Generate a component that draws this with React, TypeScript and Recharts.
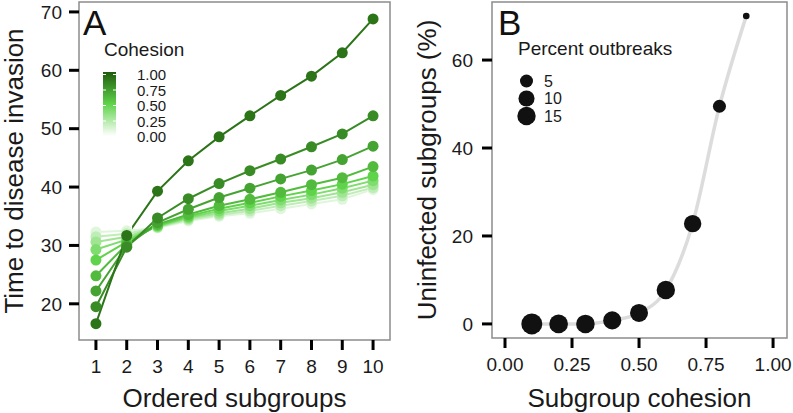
import React from "react";
import {
  LineChart,
  Line,
  ComposedChart,
  Scatter,
  XAxis,
  YAxis,
  ReferenceArea,
  Legend,
} from "recharts";

// Panel A: time to disease invasion by ordered subgroup, one line per cohesion level
const subgroups = [1, 2, 3, 4, 5, 6, 7, 8, 9, 10];
const cohesionLevels = [0, 0.1, 0.2, 0.3, 0.4, 0.5, 0.6, 0.7, 0.8, 0.9];
const time_c00 = [33.0, 33.0, 33.0, 34.1, 34.8, 35.2, 35.9, 36.7, 37.4, 39.3];
const time_c01 = [32.3, 32.5, 33.0, 34.2, 35.0, 35.5, 36.3, 37.1, 37.9, 39.6];
const time_c02 = [31.5, 32.0, 33.1, 34.4, 35.2, 35.9, 36.8, 37.6, 38.5, 39.9];
const time_c03 = [30.6, 31.5, 33.2, 34.6, 35.5, 36.3, 37.3, 38.1, 39.1, 40.4];
const time_c04 = [29.3, 31.0, 33.3, 34.8, 35.9, 36.8, 37.8, 38.7, 39.8, 41.1];
const time_c05 = [27.5, 30.6, 33.4, 35.0, 36.3, 37.3, 38.4, 39.4, 40.5, 41.9];
const time_c06 = [24.8, 30.2, 33.6, 35.3, 36.8, 37.9, 39.1, 40.4, 41.6, 43.5];
const time_c07 = [22.2, 29.9, 33.9, 36.2, 38.2, 39.8, 41.4, 42.9, 44.7, 47.0];
const time_c08 = [19.5, 29.7, 34.7, 38.0, 40.6, 42.8, 44.8, 46.9, 49.1, 52.2];
const time_c09 = [16.6, 31.7, 39.3, 44.5, 48.6, 52.2, 55.7, 59.0, 63.0, 68.8];
const timeSeries = [time_c00, time_c01, time_c02, time_c03, time_c04, time_c05, time_c06, time_c07, time_c08, time_c09];
const yTicksA = [20, 30, 40, 50, 60, 70];
const cohesionLegendTicks = [1.0, 0.75, 0.5, 0.25, 0.0];

// Panel B: uninfected subgroups vs subgroup cohesion, sized by percent outbreaks
const cohesionB = [0.1, 0.2, 0.3, 0.4, 0.5, 0.6, 0.7, 0.8, 0.9];
const uninfected = [0, 0, 0, 0.8, 2.5, 7.7, 22.8, 49.5, 70];
const outbreaks = [22, 15.8, 15.4, 14.3, 14.1, 15.0, 12.7, 5.0, 0.8];
const xTicksB = [0, 0.25, 0.5, 0.75, 1.0];
const yTicksB = [0, 20, 40, 60];
const outbreakLegend = [5, 10, 15];

const rowsA = subgroups.map((s, i) => {
  const row: Record<string, number> = { subgroup: s };
  cohesionLevels.forEach((_, j) => (row["c" + j] = timeSeries[j][i]));
  return row;
});
const rowsB = cohesionB.map((c, i) => ({ cohesion: c, uninfected: uninfected[i], outbreaks: outbreaks[i] }));

const FONT = '"Liberation Sans", Arial, Helvetica, sans-serif';
const FRAME = "#8c8c8c";

// white -> green -> dark green
function hex(h: string) {
  return [1, 3, 5].map((k) => parseInt(h.slice(k, k + 2), 16));
}
const stops: [number, number[]][] = [
  [0, hex("#ffffff")],
  [0.5, hex("#5fd34a")],
  [1, hex("#1f5c0c")],
];
function cohesionColor(c: number) {
  let i = c <= 0.5 ? 0 : 1;
  const [a, ca] = stops[i];
  const [b, cb] = stops[i + 1];
  const t = (c - a) / (b - a);
  const rgb = ca.map((v, k) => Math.round(v + (cb[k] - v) * t));
  return `rgb(${rgb.join(",")})`;
}

function outbreakRadius(v: number) {
  const t = Math.max(0, (v - 0.8) / (22 - 0.8));
  return 3.3 + 7.2 * Math.sqrt(t);
}

const tickStyle = { fill: "#1a1a1a", fontSize: 19, fontFamily: FONT };
const tickLine = { stroke: "#000", strokeWidth: 3 };
const titleStyle = { fill: "#1a1a1a", fontSize: 26, fontFamily: FONT, textAnchor: "middle" as const };

function LegendA() {
  return (
    <svg width={260} height={160} style={{ fontFamily: FONT }}>
      <defs>
        <linearGradient id="cohGrad" x1="0" y1="0" x2="0" y2="1">
          {[1, 0.875, 0.75, 0.625, 0.5, 0.375, 0.25, 0.125, 0].map((c) => (
            <stop key={c} offset={1 - c} stopColor={cohesionColor(c)} />
          ))}
        </linearGradient>
      </defs>
      <text x={83} y={35} fontSize={35} fill="#111">A</text>
      <text x={104} y={56} fontSize={19} fill="#1a1a1a">Cohesion</text>
      <rect x={103} y={72} width={13} height={64} fill="url(#cohGrad)" />
      {cohesionLegendTicks.map((c) => {
        const y = 74.5 + (1 - c) * 62;
        return (
          <g key={c}>
            <line x1={103} x2={106} y1={y} y2={y} stroke="#fff" strokeWidth={1} />
            <line x1={113} x2={116} y1={y} y2={y} stroke="#fff" strokeWidth={1} />
            <text x={137} y={y + 5.5} fontSize={15} fill="#1a1a1a">{c.toFixed(2)}</text>
          </g>
        );
      })}
    </svg>
  );
}

function LegendB() {
  return (
    <svg width={300} height={140} style={{ fontFamily: FONT }}>
      <text x={98} y={35} fontSize={35} fill="#111">B</text>
      <text x={118} y={55} fontSize={19} fill="#1a1a1a">Percent outbreaks</text>
      {outbreakLegend.map((v, i) => (
        <g key={v}>
          <circle cx={126.5} cy={81 + i * 17.5} r={outbreakRadius(v)} fill="#111" />
          <text x={144} y={81 + i * 17.5 + 5.5} fontSize={16} fill="#1a1a1a">{v}</text>
        </g>
      ))}
    </svg>
  );
}

export default function App() {
  return (
    <div style={{ position: "absolute", left: 0, top: 0, width: 793, height: 413, background: "#fff" }}>
      <div style={{ position: "absolute", left: 0, top: 0 }}>
        <LineChart width={400} height={413} data={rowsA} margin={{ top: 2, right: 10, left: 0, bottom: 0 }}>
          <XAxis
            dataKey="subgroup"
            type="number"
            domain={[0.45, 10.55]}
            ticks={subgroups}
            allowDataOverflow
            height={73}
            axisLine={false}
            tickLine={tickLine}
            tickSize={10}
            tickMargin={10}
            tick={tickStyle}
            label={{ value: "Ordered subgroups", position: "insideBottom", offset: 6, style: titleStyle }}
          />
          <YAxis
            type="number"
            domain={[13.8, 71.7]}
            ticks={yTicksA}
            allowDataOverflow
            width={79}
            axisLine={false}
            tickLine={tickLine}
            tickSize={10}
            tickMargin={7}
            tick={tickStyle}
            label={{ value: "Time to disease invasion", angle: -90, position: "insideLeft", offset: 13.5, style: titleStyle }}
          />
          <ReferenceArea x1={0.45} x2={10.55} y1={13.8} y2={71.7} fill="none" stroke={FRAME} strokeWidth={1.5} />
          {cohesionLevels.map((c, j) => (
            <Line
              key={c}
              dataKey={"c" + j}
              type="linear"
              stroke={cohesionColor(c)}
              strokeWidth={2}
              dot={{ r: 5.5, fill: cohesionColor(c), stroke: "none" }}
              activeDot={false}
              isAnimationActive={false}
            />
          ))}
          <Legend
            layout="horizontal"
            verticalAlign="middle"
            align="center"
            content={() => <LegendA />}
            wrapperStyle={{ left: 0, top: 0, width: 260, height: 160 }}
          />
        </LineChart>
      </div>
      <div style={{ position: "absolute", left: 400, top: 0 }}>
        <ComposedChart width={393} height={413} data={rowsB} margin={{ top: 2, right: 6, left: 0, bottom: 0 }}>
          <XAxis
            dataKey="cohesion"
            type="number"
            domain={[-0.0485, 1.052]}
            ticks={xTicksB}
            allowDataOverflow
            height={75}
            axisLine={false}
            tickLine={tickLine}
            tickSize={10}
            tickMargin={10}
            tick={tickStyle}
            tickFormatter={(v: number) => v.toFixed(2)}
            label={{ value: "Subgroup cohesion", position: "insideBottom", offset: 6, style: titleStyle }}
          />
          <YAxis
            type="number"
            domain={[-3.2, 73.2]}
            ticks={yTicksB}
            allowDataOverflow
            width={92}
            axisLine={false}
            tickLine={tickLine}
            tickSize={10}
            tickMargin={9}
            tick={tickStyle}
            label={{ value: "Uninfected subgroups (%)", angle: -90, position: "insideLeft", offset: 27, style: titleStyle }}
          />
          <ReferenceArea x1={-0.0485} x2={1.052} y1={-3.2} y2={73.2} fill="none" stroke={FRAME} strokeWidth={1.5} />
          <Line
            dataKey="uninfected"
            type="monotone"
            stroke="#dcdcdc"
            strokeWidth={3.5}
            dot={false}
            activeDot={false}
            isAnimationActive={false}
          />
          <Scatter
            data={rowsB}
            dataKey="uninfected"
            isAnimationActive={false}
            shape={(p: any) => <circle cx={p.cx} cy={p.cy} r={outbreakRadius(p.payload.outbreaks)} fill="#111" />}
          />
          <Legend
            layout="horizontal"
            verticalAlign="middle"
            align="center"
            content={() => <LegendB />}
            wrapperStyle={{ left: 0, top: 0, width: 300, height: 140 }}
          />
        </ComposedChart>
      </div>
    </div>
  );
}
